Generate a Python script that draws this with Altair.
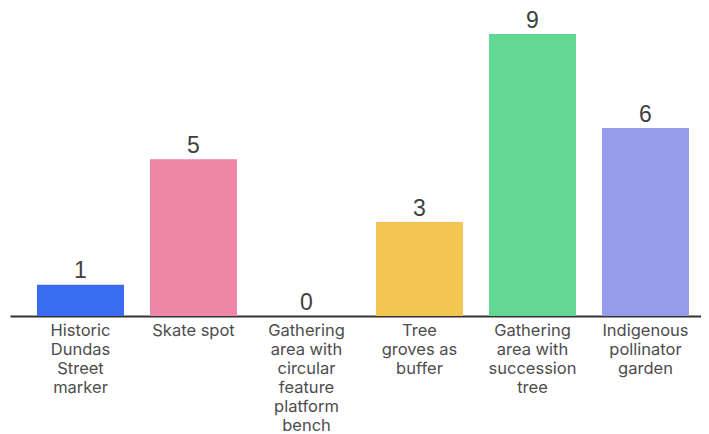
import altair as alt
import pandas as pd

categories = [
    "Historic\nDundas\nStreet\nmarker",
    "Skate spot",
    "Gathering\narea with\ncircular\nfeature\nplatform\nbench",
    "Tree\ngroves as\nbuffer",
    "Gathering\narea with\nsuccession\ntree",
    "Indigenous\npollinator\ngarden",
]
values = [1, 5, 0, 3, 9, 6]
colors = ["#3a6cf2", "#ee86a8", "#ffffff", "#f3c654", "#63d794", "#969bec"]

df = pd.DataFrame({"category": categories, "value": values, "color": colors})

x = alt.X(
    "category:N",
    sort=categories,
    scale=alt.Scale(paddingInner=0.2301, paddingOuter=0.1726, align=0.692),
    axis=alt.Axis(
        title=None,
        labelAngle=0,
        labelExpr="split(datum.label, '\\n')",
        labelFont="Inter",
        labelFontSize=16.5,
        labelLineHeight=19,
        labelColor="#4d4d4d",
        labelPadding=6,
        labelBaseline="top",
        labelAlign="center",
        ticks=False,
        domainColor="#333333",
        domainWidth=2,
        grid=False,
    ),
)
y = alt.Y("value:Q", scale=alt.Scale(domain=[0, 9], nice=False), axis=None)

bars = alt.Chart(df).mark_bar().encode(
    x=x, y=y, color=alt.Color("color:N", scale=None)
)
text = alt.Chart(df).mark_text(
    baseline="alphabetic", dy=-6.5, font="Liberation Sans", fontSize=23, color="#404040"
).encode(x=x, y=y, text="value:Q")

chart = (
    alt.layer(bars, text)
    .properties(
        width=691,
        height=282,
        view=alt.ViewBackground(stroke="transparent", strokeOpacity=0, strokeWidth=0),
        padding={"left": 2, "right": 0, "top": 26, "bottom": 118},
        autosize=alt.AutoSizeParams(type="none"),
    )
    .configure_view(stroke="transparent", strokeWidth=0, strokeOpacity=0)
    .configure(background="#ffffff")
)

chart.save("out.html", embed_options={"renderer": "svg", "actions": False})
